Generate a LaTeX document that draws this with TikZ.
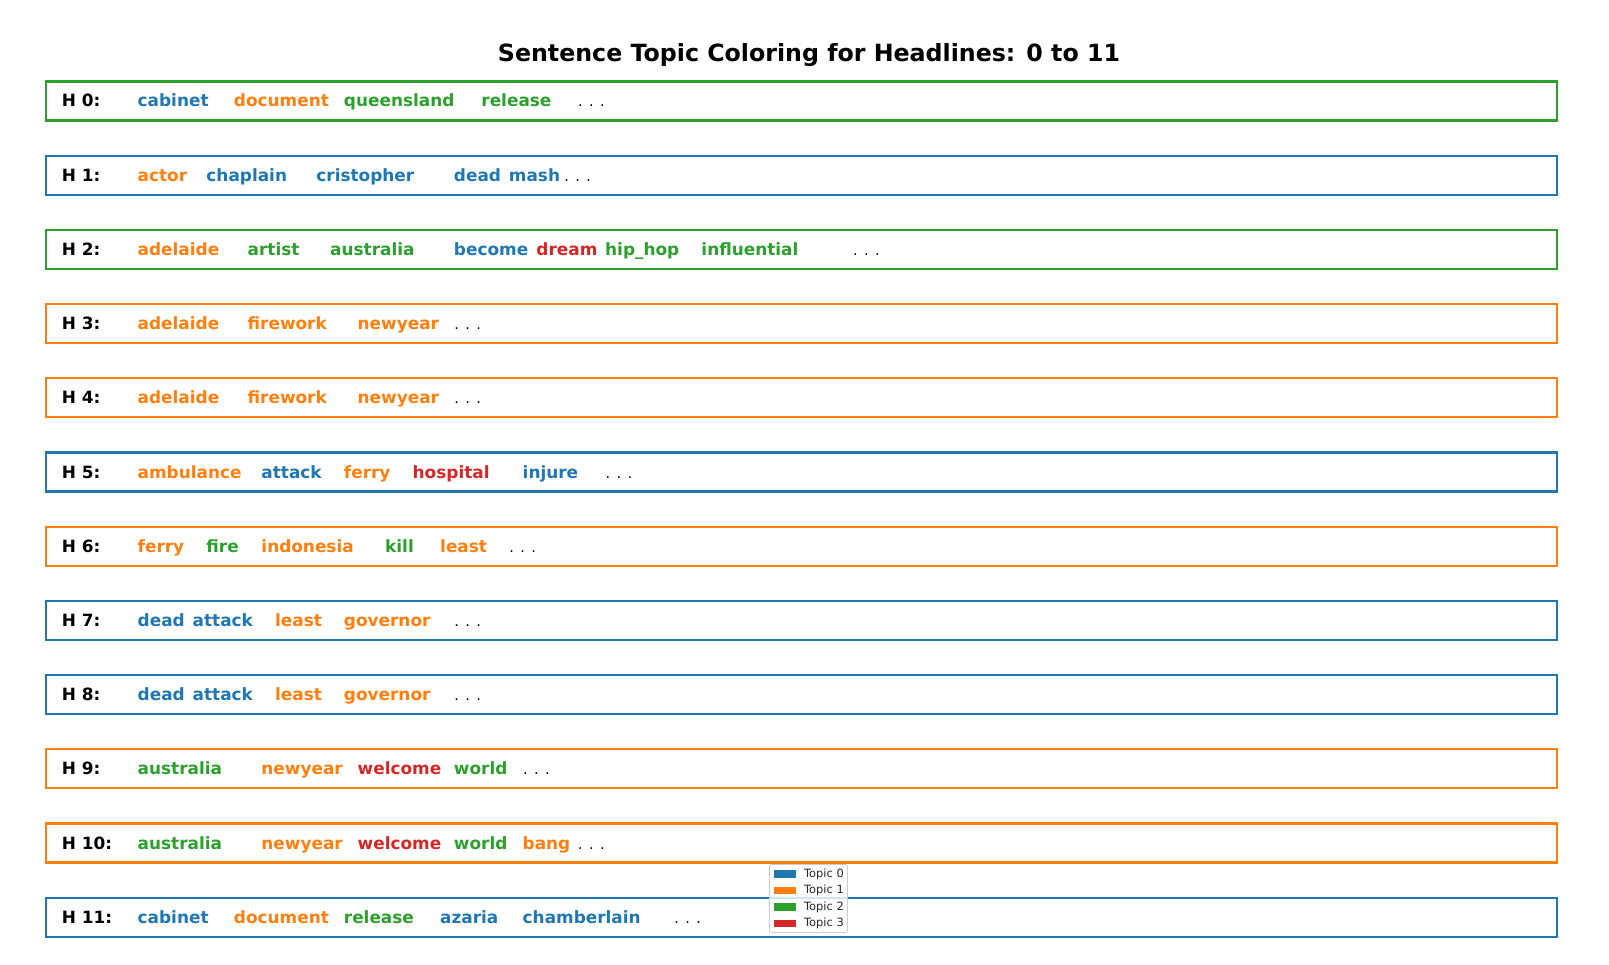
\documentclass[tikz,border=0pt]{standalone}
\usepackage{fontspec}
\setmainfont{DejaVu Sans}
\definecolor{tb}{HTML}{1F77B4}
\definecolor{to}{HTML}{FF7F0E}
\definecolor{tg}{HTML}{2CA02C}
\definecolor{tr}{HTML}{D62728}
\newcommand\threedots{.\kern6.4pt.\kern6.4pt.}
\newcommand\hrow[4]{%
  \pgfmathsetmacro\ry{101+74.2*#1}%
  \node[rowbox,draw=#2] (box#1) at (801.5,\ry) {};
  \node[lbl] (lab#1) at (61.6,\ry+6) {H #1:};
  \foreach \k/\w/\c in {#3} {\node[word,text=\c] (w#1-\k) at (\k*13.75,\ry+6) {\w};}
  \node[dotsnode] (dots#1) at (#4*13.75+0.5,\ry+6) {\threedots};
}
\begin{document}
\begin{tikzpicture}[x=1pt,y=-1pt,
  rowbox/.style={line width=2.1pt,minimum width=1511pt,minimum height=39pt,inner sep=0pt},
  word/.style={anchor=base west,inner sep=0pt,font=\fontsize{16.9}{20}\selectfont\bfseries},
  lbl/.style={word,text=black},
  dotsnode/.style={anchor=base west,inner sep=0pt,font=\fontsize{14.5}{20}\selectfont,text=black},
  legtext/.style={anchor=west,inner sep=0pt,font=\fontsize{11.4}{13}\selectfont,text=black!85},
  legpatch/.style={inner sep=0pt,minimum width=22.6pt,minimum height=7.4pt}]
\useasboundingbox (0,0) rectangle (1609,965);
\node[font=\fontsize{23.7}{28}\selectfont\bfseries] (title) at (809,55) {Sentence Topic Coloring for Headlines: 0 to 11};
\hrow{0}{tg}{10/cabinet/tb,17/document/to,25/queensland/tg,35/release/tg}{42}
\hrow{1}{tb}{10/actor/to,15/chaplain/tb,23/cristopher/tb,33/dead/tb,37/mash/tb}{41}
\hrow{2}{tg}{10/adelaide/to,18/artist/tg,24/australia/tg,33/become/tb,39/dream/tr,44/hip\_hop/tg,51/influential/tg}{62}
\hrow{3}{to}{10/adelaide/to,18/firework/to,26/newyear/to}{33}
\hrow{4}{to}{10/adelaide/to,18/firework/to,26/newyear/to}{33}
\hrow{5}{tb}{10/ambulance/to,19/attack/tb,25/ferry/to,30/hospital/tr,38/injure/tb}{44}
\hrow{6}{to}{10/ferry/to,15/fire/tg,19/indonesia/to,28/kill/tg,32/least/to}{37}
\hrow{7}{tb}{10/dead/tb,14/attack/tb,20/least/to,25/governor/to}{33}
\hrow{8}{tb}{10/dead/tb,14/attack/tb,20/least/to,25/governor/to}{33}
\hrow{9}{to}{10/australia/tg,19/newyear/to,26/welcome/tr,33/world/tg}{38}
\hrow{10}{to}{10/australia/tg,19/newyear/to,26/welcome/tr,33/world/tg,38/bang/to}{42}
\hrow{11}{tb}{10/cabinet/tb,17/document/to,25/release/tg,32/azaria/tb,38/chamberlain/tb}{49}
% legend
\node[draw=black!20,line width=0.8pt,fill=white,fill opacity=0.8,rounded corners=2pt,minimum width=78pt,minimum height=68pt,inner sep=0pt] (leg) at (808.5,898.5) {};
\node[legpatch,fill=tb] (p0) at (785,874) {};
\node[legpatch,fill=to] (p1) at (785,890.5) {};
\node[legpatch,fill=tg] (p2) at (785,907) {};
\node[legpatch,fill=tr] (p3) at (785,923.5) {};
\node[legtext] (t0) at (804,874) {Topic 0};
\node[legtext] (t1) at (804,890.5) {Topic 1};
\node[legtext] (t2) at (804,907) {Topic 2};
\node[legtext] (t3) at (804,923.5) {Topic 3};
\end{tikzpicture}
\end{document}
